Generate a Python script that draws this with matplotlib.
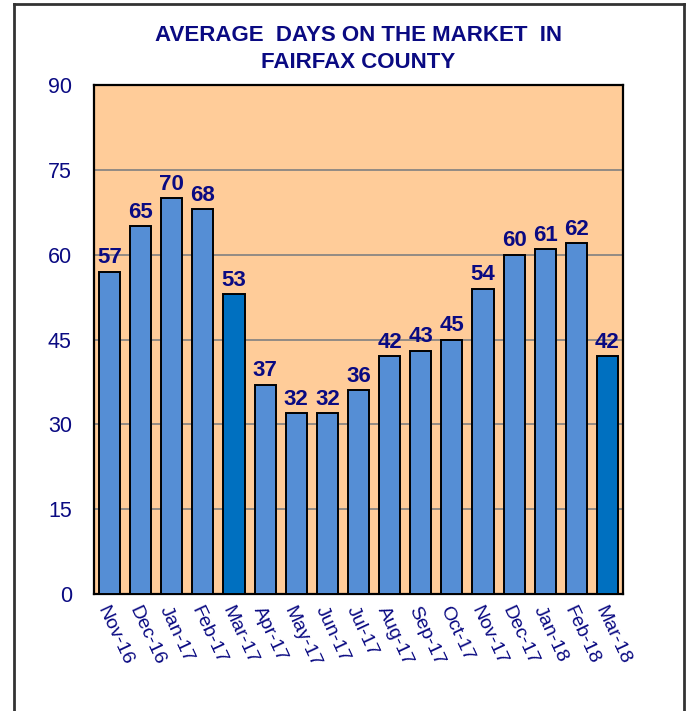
import matplotlib
matplotlib.use("Agg")
import matplotlib.pyplot as plt
from matplotlib.lines import Line2D

months = ["Nov-16", "Dec-16", "Jan-17", "Feb-17", "Mar-17", "Apr-17", "May-17",
          "Jun-17", "Jul-17", "Aug-17", "Sep-17", "Oct-17", "Nov-17", "Dec-17",
          "Jan-18", "Feb-18", "Mar-18"]
days = [57, 65, 70, 68, 53, 37, 32, 32, 36, 42, 43, 45, 54, 60, 61, 62, 42]
highlight = ["Mar-17", "Mar-18"]
yticks = [0, 15, 30, 45, 60, 75, 90]
title_lines = ["AVERAGE  DAYS ON THE MARKET  IN", "FAIRFAX COUNTY"]

NAVY = "#0A0A82"
LIGHT = "#558ED5"
DARK = "#0070C0"
PEACH = "#FFCC99"

plt.rcParams["font.family"] = ["Liberation Sans", "DejaVu Sans"]

W, H = 688, 711
fig = plt.figure(figsize=(W / 100, H / 100), dpi=100)
ax = fig.add_axes([94 / W, 1 - 594 / H, (623 - 94) / W, (594 - 85) / H])
ax.set_facecolor(PEACH)

x = list(range(len(months)))
colors = [DARK if m in highlight else LIGHT for m in months]
ax.bar(x, days, width=0.68, color=colors, edgecolor="black", linewidth=1.4, zorder=3)

ax.set_xlim(-0.5, len(months) - 0.5)
ax.set_ylim(0, 90)
ax.set_yticks(yticks)
ax.set_yticklabels([str(v) for v in yticks], fontsize=15.5, color=NAVY)
ax.set_xticks(x)
ax.set_xticklabels(months, rotation=-65, ha="left", va="top", rotation_mode="anchor",
                   fontsize=14, color=NAVY)
ax.tick_params(axis="both", length=0)
ax.tick_params(axis="y", pad=16)
ax.tick_params(axis="x", pad=7)
ax.yaxis.grid(True, color="#808080", linewidth=1.2, zorder=1)
ax.set_axisbelow(True)
for s in ax.spines.values():
    s.set_linewidth(1.6)
    s.set_color("black")

for xi, v in zip(x, days):
    ax.annotate(str(v), (xi, v), xytext=(0, 2.5), textcoords="offset points",
                ha="center", va="bottom", fontsize=16, fontweight="bold", color=NAVY, zorder=4)

cx = (94 + 623) / 2 / W
fig.text(cx, 1 - 41 / H, title_lines[0], ha="center", va="baseline", fontsize=16,
         fontweight="bold", color=NAVY)
fig.text(cx, 1 - 68 / H, title_lines[1], ha="center", va="baseline", fontsize=16,
         fontweight="bold", color=NAVY)

# outer frame
fc = "#333333"
fig.add_artist(Line2D([14 / W, 14 / W], [0, 1 - 4 / H], color=fc, linewidth=2, transform=fig.transFigure))
fig.add_artist(Line2D([684 / W, 684 / W], [0, 1 - 4 / H], color=fc, linewidth=2, transform=fig.transFigure))
fig.add_artist(Line2D([14 / W, 684 / W], [1 - 4 / H, 1 - 4 / H], color=fc, linewidth=2, transform=fig.transFigure))

fig.savefig("out.png", dpi=100)
